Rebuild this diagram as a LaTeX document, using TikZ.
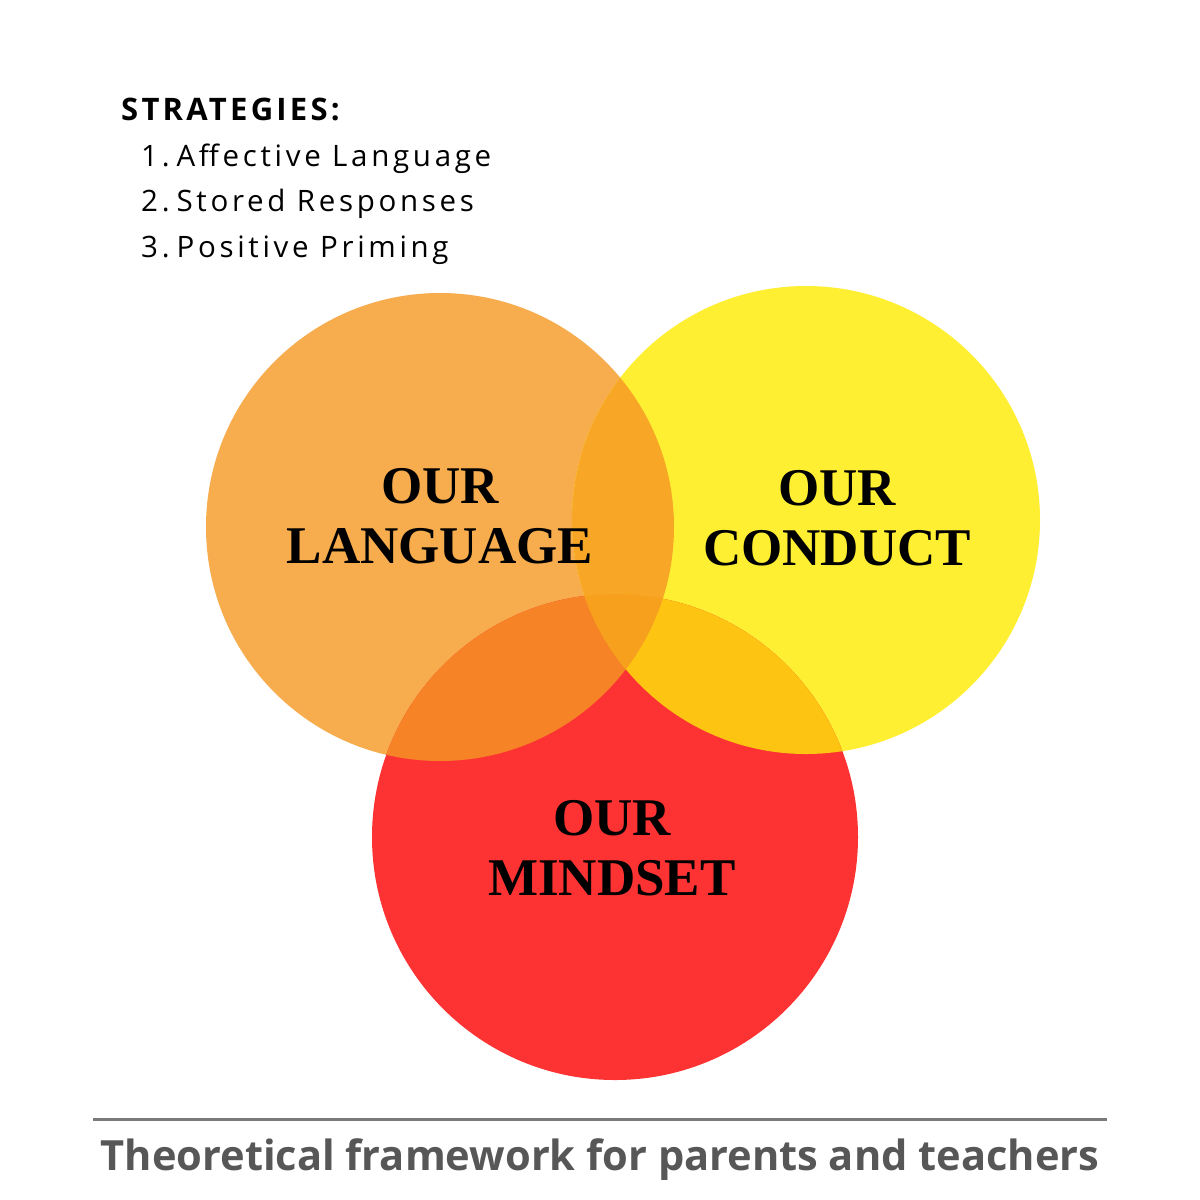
\documentclass[tikz,border=0pt]{standalone}
\usepackage{fontspec}
\setmainfont{Liberation Serif}
\newfontfamily\osans[LetterSpace=12.5]{Open Sans}
\newfontfamily\osbold[LetterSpace=10.5]{Open Sans}
\newfontfamily\oscap{Open Sans}
\definecolor{cOr}{HTML}{F7AC4D}
\definecolor{cYe}{HTML}{FFEF33}
\definecolor{cRe}{HTML}{FD3333}
\definecolor{cOY}{HTML}{F8A626}
\definecolor{cOR}{HTML}{F68326}
\definecolor{cYR}{HTML}{FDC411}
\definecolor{cOYR}{HTML}{F7A01D}
\definecolor{capgray}{HTML}{575757}
\definecolor{linegray}{HTML}{7A7A7A}
\tikzset{
  lbl/.style={anchor=base,inner sep=0pt,font=\fontsize{53}{53}\selectfont\bfseries},
  item/.style={anchor=base west,inner sep=0pt,font=\osans\fontsize{29.5}{30}\selectfont},
}
\begin{document}
\begin{tikzpicture}[x=1pt,y=-1pt]
\useasboundingbox (0,0) rectangle (1200,1200);
\fill[white] (0,0) rectangle (1200,1200);
\def\cO{(440,527) circle[radius=234]}
\def\cY{(806,520) circle[radius=234]}
\def\cR{(615,837) circle[radius=243]}
\fill[cOr] \cO;
\fill[cYe] \cY;
\fill[cRe] \cR;
\begin{scope}\clip \cO; \fill[cOY] \cY; \end{scope}
\begin{scope}\clip \cO; \fill[cOR] \cR; \end{scope}
\begin{scope}\clip \cY; \fill[cYR] \cR; \end{scope}
\begin{scope}\clip \cO; \clip \cY; \fill[cOYR] \cR; \end{scope}
% labels
\node[lbl] (l1) at (440,503) {OUR};
\node[lbl] (l2) at (440,563) {LANGUAGE};
\node[lbl] (c1) at (837,505) {OUR};
\node[lbl] (c2) at (837,565) {CONDUCT};
\node[lbl] (m1) at (612,835) {OUR};
\node[lbl] (m2) at (612,895) {MINDSET};
% strategies
\node[anchor=base west,inner sep=0pt,font=\osbold\fontsize{31}{31}\selectfont\bfseries] (st) at (121,120) {STRATEGIES:};
\node[item] (s1) at (141,166) {1.\kern7pt Affective Language};
\node[item] (s2) at (141,211) {2.\kern7pt Stored Responses};
\node[item] (s3) at (141,257) {3.\kern7pt Positive Priming};
% caption
\coordinate (la) at (93,1119);
\coordinate (lb) at (1107,1119);
\draw[linegray,line width=3pt] (la) -- (lb);
\node[anchor=base,inner sep=0pt,text=capgray,font=\oscap\fontsize{41.6}{42}\selectfont\bfseries] (cap) at (600,1170) {Theoretical framework for parents and teachers};
\end{tikzpicture}
\end{document}
